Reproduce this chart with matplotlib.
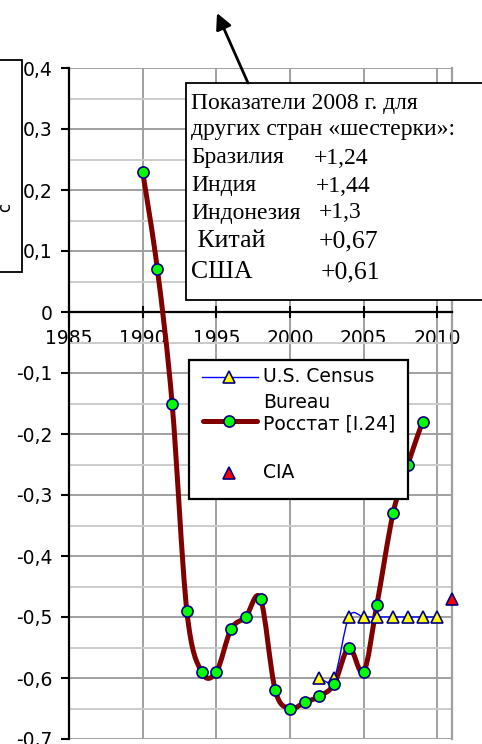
import numpy as np
import matplotlib
matplotlib.use('Agg')
import matplotlib.pyplot as plt
from matplotlib.path import Path
from matplotlib.patches import PathPatch, Rectangle, FancyArrowPatch
from matplotlib.lines import Line2D
from matplotlib.transforms import Affine2D
from matplotlib.ticker import MultipleLocator, FixedLocator, FuncFormatter

# ---------------- data ----------------
rosstat_years = [1990, 1991, 1992, 1993, 1994, 1995, 1996, 1997, 1998, 1999,
                 2000, 2001, 2002, 2003, 2004, 2005, 2005.9, 2007, 2008, 2009]
rosstat_values = [0.23, 0.07, -0.15, -0.49, -0.59, -0.59, -0.52, -0.50, -0.47, -0.62,
                  -0.65, -0.64, -0.63, -0.61, -0.55, -0.59, -0.48, -0.33, -0.25, -0.18]
census_years = [2002, 2003, 2004, 2005, 2005.9, 2007, 2008, 2009, 2010]
census_values = [-0.60, -0.60, -0.50, -0.50, -0.50, -0.50, -0.50, -0.50, -0.50]
cia_years = [2011]
cia_values = [-0.47]

x_ticks = [1985, 1990, 1995, 2000, 2005, 2010]
y_ticks = [0.4, 0.3, 0.2, 0.1, 0.0, -0.1, -0.2, -0.3, -0.4, -0.5, -0.6, -0.7]

legend_labels = ["U.S. Census", "Bureau", "Росстат [I.24]", "CIA"]
box_title = ["Показатели 2008 г. для", "других стран «шестерки»:"]
box_countries = ["Бразилия", "Индия", "Индонезия", " Китай", "США"]
box_values = ["+1,24", "+1,44", "+1,3", "+0,67", "+0,61"]

W, H = 482, 744
fig = plt.figure(figsize=(W / 100, H / 100), dpi=100)
fig.patch.set_facecolor('white')

L, R, T, B = 69, 452, 68, 739
ax = fig.add_axes([L / W, 1 - B / H, (R - L) / W, (B - T) / H])
ax.set_xlim(1985, 2011)
ax.set_ylim(-0.7, 0.4)

# pixel transform (origin top-left)
px = Affine2D().scale(1 / 100.0, -1 / 100.0).translate(0, H / 100.0) + fig.dpi_scale_trans


def smooth_path(xs, ys):
    pts = np.column_stack([xs, ys]).astype(float)
    n = len(pts)
    verts = [pts[0]]
    codes = [Path.MOVETO]
    for i in range(n - 1):
        p0 = pts[i - 1] if i > 0 else pts[i]
        p1 = pts[i]
        p2 = pts[i + 1]
        p3 = pts[i + 2] if i + 2 < n else pts[i + 1]
        c1 = p1 + (p2 - p0) / 6.0
        c2 = p2 - (p3 - p1) / 6.0
        verts += [c1, c2, p2]
        codes += [Path.CURVE4] * 3
    return Path(verts, codes)


# grid
ax.xaxis.set_major_locator(FixedLocator(x_ticks))
ax.yaxis.set_major_locator(FixedLocator(y_ticks))
ax.yaxis.set_minor_locator(MultipleLocator(0.05))
ax.grid(which='major', axis='both', color='#a0a0a0', lw=1.4, zorder=0)
ax.grid(which='minor', axis='y', color='#cccccc', lw=1.4, zorder=0)
ax.set_axisbelow(True)

# spines
ax.spines['top'].set_visible(False)
ax.spines['right'].set_color('#a0a0a0')
ax.spines['right'].set_linewidth(1.6)
ax.spines['left'].set_color('black')
ax.spines['left'].set_linewidth(1.6)
ax.spines['bottom'].set_position(('data', 0))
ax.spines['bottom'].set_color('black')
ax.spines['bottom'].set_linewidth(1.6)

ax.tick_params(axis='x', which='major', direction='inout', length=9, width=1.5,
               pad=8, labelsize=13.5, colors='black')
ax.tick_params(axis='y', which='major', direction='out', length=6, width=1.5,
               pad=6, labelsize=13.5)
ax.tick_params(axis='y', which='minor', length=0)
ax.yaxis.set_major_formatter(FuncFormatter(
    lambda v, p: '0' if abs(v) < 1e-9 else ('%.1f' % v).replace('.', ',')))
for lab in ax.get_xticklabels() + ax.get_yticklabels():
    lab.set_family('DejaVu Sans')

# series
ax.add_patch(PathPatch(smooth_path(rosstat_years, rosstat_values), facecolor='none',
                       edgecolor='#800000', lw=3.6, capstyle='round', joinstyle='round',
                       zorder=3))
ax.add_patch(PathPatch(smooth_path(census_years, census_values), facecolor='none',
                       edgecolor='#0000ff', lw=1.0, zorder=4))
ax.plot(census_years, census_values, linestyle='none', marker='^', ms=9,
        mfc='#ffff00', mec='#000080', mew=1.2, zorder=5, clip_on=False)
ax.plot(rosstat_years, rosstat_values, linestyle='none', marker='o', ms=8,
        mfc='#00ff00', mec='#000080', mew=1.2, zorder=6, clip_on=False)
ax.plot(cia_years, cia_values, linestyle='none', marker='^', ms=9,
        mfc='#ff0000', mec='#000080', mew=1.2, zorder=6, clip_on=False)

# ---------------- left partial box ----------------
fig.add_artist(Rectangle((-5, 60), 27, 212, transform=px, facecolor='white',
                         edgecolor='black', lw=1.3, zorder=2))
fig.text(5, 207, "с", transform=px, fontsize=12, family='DejaVu Sans',
         rotation=90, ha='center', va='center', zorder=3)

# ---------------- text box ----------------
fig.add_artist(Rectangle((186, 83), 320, 217, transform=px, facecolor='white',
                         edgecolor='black', lw=1.3, zorder=2))
serif = 'Liberation Serif'
fig.text(191, 103, box_title[0], transform=px, fontsize=17, family=serif,
         ha='left', va='center', zorder=3)
fig.text(191, 129, box_title[1], transform=px, fontsize=17, family=serif,
         ha='left', va='center', zorder=3)
row_y = [158, 186, 213, 241, 272]
name_x = [191, 191, 191, 191, 191]
val_x = [314, 316, 319, 319, 321]
sizes = [17, 17, 17, 18.5, 18.5]
for i in range(5):
    fig.text(name_x[i], row_y[i], box_countries[i], transform=px, fontsize=sizes[i],
             family=serif, ha='left', va='center', zorder=3)
    fig.text(val_x[i], row_y[i], box_values[i], transform=px, fontsize=sizes[i],
             family=serif, ha='left', va='center', zorder=3)

# arrow
fig.add_artist(FancyArrowPatch(
    (248, 83), (217, 13), transform=px, arrowstyle='-|>', mutation_scale=24,
    lw=2.0, color='black', zorder=3, shrinkA=0, shrinkB=0))

# ---------------- legend (manual) ----------------
fig.add_artist(Rectangle((189, 360), 219, 139, transform=px, facecolor='white',
                         edgecolor='black', lw=1.6, zorder=2))
fig.add_artist(Line2D([202, 258], [377, 377], transform=px, color='#0000ff', lw=1.0, zorder=3))
fig.add_artist(Line2D([229], [377], transform=px, linestyle='none', marker='^', ms=9,
                      mfc='#ffff00', mec='#000080', mew=1.2, zorder=4))
fig.add_artist(Line2D([203, 257], [421, 421], transform=px, color='#800000', lw=3.6,
                      solid_capstyle='round', zorder=3))
fig.add_artist(Line2D([229], [421], transform=px, linestyle='none', marker='o', ms=8,
                      mfc='#00ff00', mec='#000080', mew=1.2, zorder=4))
fig.add_artist(Line2D([229], [473], transform=px, linestyle='none', marker='^', ms=9,
                      mfc='#ff0000', mec='#000080', mew=1.2, zorder=4))
leg_y = [377, 403, 424, 473]
for s, y in zip(legend_labels, leg_y):
    fig.text(263, y, s, transform=px, fontsize=13.5, family='DejaVu Sans',
             ha='left', va='center', zorder=3)

fig.savefig('out.png', dpi=100, facecolor='white')
